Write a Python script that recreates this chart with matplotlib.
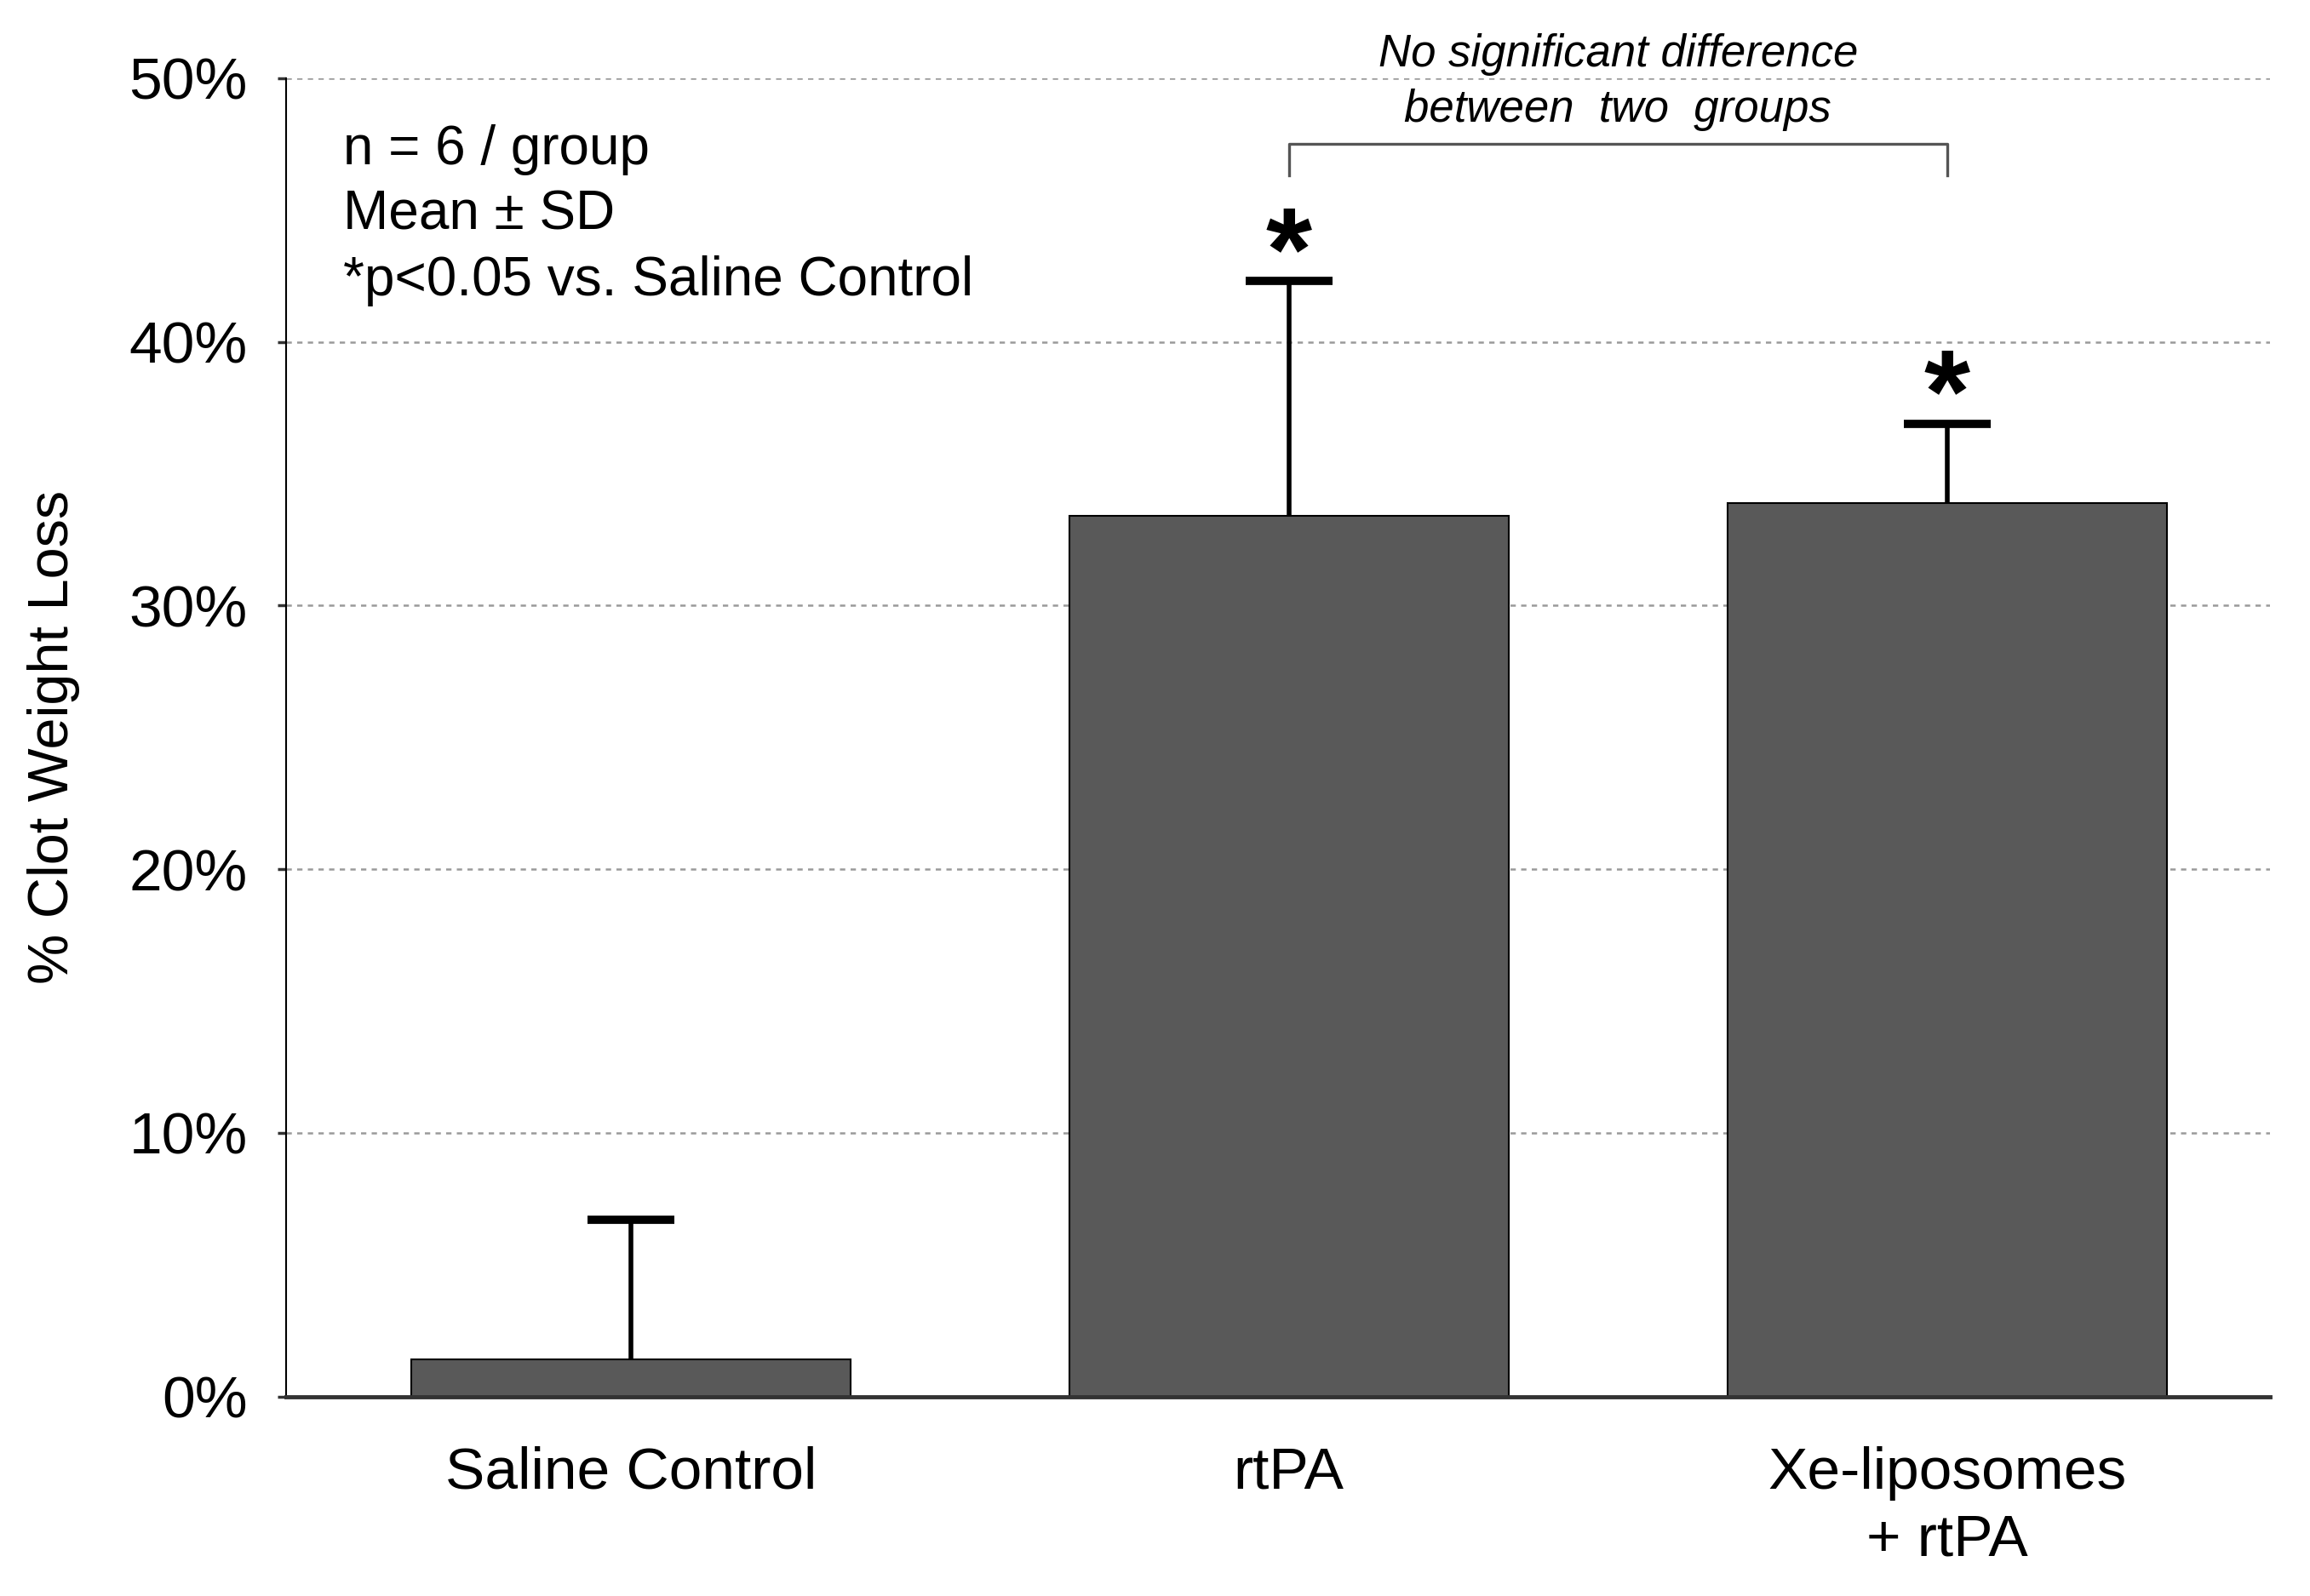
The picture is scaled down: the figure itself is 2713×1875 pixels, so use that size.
"""
Clot weight loss bar chart (Saline Control / rtPA / Xe-liposomes + rtPA).
"""

import matplotlib
matplotlib.use("Agg")
import matplotlib.pyplot as plt
import numpy as np

plt.rcParams["font.family"] = ["Liberation Sans", "DejaVu Sans"]

# ----------------------------------------------------------------------------
# Data
# ----------------------------------------------------------------------------
groups = ["Saline Control", "rtPA", "Xe-liposomes\n+ rtPA"]
mean_loss = [0.014, 0.334, 0.339]
sd_loss = [0.053, 0.089, 0.030]
significant = [False, True, True]

y_ticks = [0.0, 0.1, 0.2, 0.3, 0.4, 0.5]
y_tick_labels = ["0%", "10%", "20%", "30%", "40%", "50%"]

info_lines = ["n = 6 / group", "Mean \u00b1 SD", "*p<0.05 vs. Saline Control"]
note_lines = ["No significant difference", "between  two  groups"]

# ----------------------------------------------------------------------------
# Figure
# ----------------------------------------------------------------------------
fig = plt.figure(figsize=(27.13, 18.75), dpi=100)
ax = fig.add_axes([0.124, 0.125, 0.8585, 0.826])

x = np.arange(len(groups))
ax.bar(x, mean_loss, width=0.667, color="#595959", edgecolor="black",
       linewidth=1.5, zorder=3)

# only the upper half of the SD is drawn
_, caps, _ = ax.errorbar(x, mean_loss, yerr=[np.zeros(len(x)), sd_loss],
                         fmt="none", ecolor="black", elinewidth=4,
                         capsize=37, capthick=7, zorder=4)
caps[0].remove()  # drop the (zero-length) lower caps

ax.set_xlim(-0.523, 2.49)
ax.set_ylim(0, 0.5)
ax.set_yticks(y_ticks)
ax.set_yticklabels(y_tick_labels)
ax.set_xticks(x)
ax.set_xticklabels(groups, linespacing=1.3)

ax.tick_params(axis="y", labelsize=50, length=7, width=2.5, pad=26,
               color="#333333")
ax.tick_params(axis="x", labelsize=50, length=0, pad=42)

ax.set_ylabel("% Clot Weight Loss", fontsize=48)
ax.yaxis.set_label_coords(-0.104, 0.5)

# dashed gridlines (not at zero)
for yv in y_ticks[1:]:
    ax.axhline(yv, color="#9a9a9a", linestyle=(0, (2.5, 2.5)),
               linewidth=1.8, zorder=1)

for side in ["top", "right"]:
    ax.spines[side].set_visible(False)
ax.spines["left"].set_linewidth(1.5)
ax.spines["left"].set_color("black")
ax.spines["bottom"].set_linewidth(3.5)
ax.spines["bottom"].set_color("#333333")
ax.spines["bottom"].set_zorder(5)

# significance asterisks
for xi, m, s, sig in zip(x, mean_loss, sd_loss, significant):
    if sig:
        ax.text(xi, m + s + 0.0085, "*", ha="center", va="center",
                fontsize=100, fontweight="bold", zorder=5)

# info block, upper left
for i, line in enumerate(info_lines):
    ax.text(-0.437, 0.473 - i * 0.025, line, ha="left", va="center",
            fontsize=46)

# bracket between rtPA and Xe-liposomes
br_y, br_leg = 0.475, 0.012
ax.plot([1, 1, 2, 2], [br_y - br_leg, br_y, br_y, br_y - br_leg],
        color="#555555", linewidth=2.4, clip_on=False, zorder=5)
ax.text(1.5, 0.509, note_lines[0], ha="center", va="center",
        fontsize=38, style="italic", clip_on=False)
ax.text(1.5, 0.488, note_lines[1], ha="center", va="center",
        fontsize=38, style="italic", clip_on=False)

fig.savefig("out.png", dpi=100)
plt.close(fig)
